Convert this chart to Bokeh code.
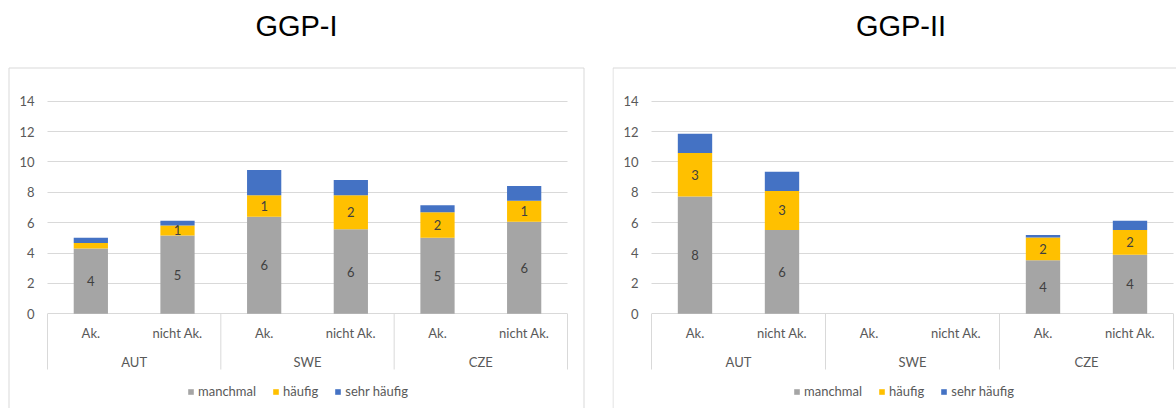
from bokeh.plotting import figure
from bokeh.models import (ColumnDataSource, FixedTicker, Legend, LegendItem,
                          Label, Range1d, Grid)
from bokeh.layouts import row
from bokeh.core.properties import value
from bokeh.embed import file_html
from bokeh.resources import INLINE
import math

# ---------------- data ----------------
groups = ["AUT", "SWE", "CZE"]
subgroups = ["Ak.", "nicht Ak."]
series = ["manchmal", "häufig", "sehr häufig"]
colors = ["#A5A5A5", "#FFC000", "#4472C4"]
y_ticks = [0, 2, 4, 6, 8, 10, 12, 14]

ggp1_title = "GGP-I"
ggp1_manchmal = [4.30, 5.16, 6.39, 5.56, 5.01, 6.06]
ggp1_haeufig = [0.36, 0.66, 1.41, 2.24, 1.67, 1.39]
ggp1_sehr_haeufig = [0.35, 0.31, 1.67, 1.01, 0.46, 0.97]

ggp2_title = "GGP-II"
ggp2_manchmal = [7.72, 5.52, 0, 0, 3.52, 3.89]
ggp2_haeufig = [2.87, 2.57, 0, 0, 1.51, 1.63]
ggp2_sehr_haeufig = [1.27, 1.27, 0, 0, 0.16, 0.61]

# ---------------- style / layout ----------------
FONT = "Lato"
GRID = "#D9D9D9"
TXT = "#595959"
H = 408
Y0_PX = 313.3        # pixel row of value 0
PPU = 15.186         # pixels per value unit


def rnd(v):
    return int(math.floor(v + 0.5))


def make_panel(title, manchmal, haeufig, sehr, canvas_left, width,
               plot_left, plot_right, box_left, box_right, title_cx, legend_x):
    factors = [(g, s) for g in groups for s in subgroups]
    n = len(factors)
    U = (plot_right - plot_left) / n

    def fx(px):
        return (px - plot_left) / U

    def fy(py):
        return (Y0_PX - py) / PPU

    p = figure(x_range=Range1d(fx(canvas_left), fx(canvas_left + width)),
               y_range=Range1d(fy(H), fy(0)),
               width=width, height=H, output_backend="svg",
               toolbar_location=None, x_axis_location=None,
               min_border_left=0, min_border_right=0,
               min_border_top=0, min_border_bottom=0)
    p.outline_line_color = None
    p.background_fill_color = "white"
    p.border_fill_color = "white"

    # panel border
    p.quad(left=[fx(box_left)], right=[fx(box_right)], top=[fy(67.5)],
           bottom=[fy(H + 50)], fill_color=None, line_color=GRID, line_width=1)

    # value axis (inside the panel, at x = 0)
    ticker = FixedTicker(ticks=y_ticks)
    yax = p.yaxis[0]
    yax.fixed_location = 0
    yax.ticker = ticker
    yax.bounds = (0, 14)
    yax.axis_line_color = None
    yax.major_tick_line_color = None
    yax.minor_tick_line_color = None
    yax.major_tick_out = 0
    yax.major_tick_in = 0
    yax.major_label_standoff = 13
    yax.major_label_text_font = FONT
    yax.major_label_text_font_size = "13px"
    yax.major_label_text_color = TXT

    p.xgrid.visible = False
    if "cross_bounds" in Grid.properties():
        p.ygrid.ticker = ticker
        p.ygrid.bounds = (0, 14)
        p.ygrid.cross_bounds = (0, n)
        p.ygrid.grid_line_color = GRID
        p.ygrid.grid_line_width = 1
    else:
        p.ygrid.visible = False
        p.segment(x0=[0] * len(y_ticks), x1=[n] * len(y_ticks), y0=y_ticks,
                  y1=y_ticks, line_color=GRID, line_width=1)

    # category table separators
    sep_x = [len(subgroups) * i for i in range(len(groups) + 1)]
    p.segment(x0=sep_x, y0=[0] * len(sep_x), x1=sep_x, y1=[fy(369)] * len(sep_x),
              line_color=GRID, line_width=1)

    # bars
    xs = [i + 0.5 for i in range(n)]
    src = ColumnDataSource(dict(x=xs, m=manchmal, h=haeufig, s=sehr))
    rs = p.vbar_stack(["m", "h", "s"], x="x", width=0.395, color=colors,
                      line_color=None, source=src)

    # data labels (rounded) for manchmal and häufig
    lx, ly, lt = [], [], []
    for i in range(n):
        bottom = 0.0
        for vals in (manchmal, haeufig):
            v = vals[i]
            if rnd(v) >= 1:
                lx.append(xs[i])
                ly.append(bottom + v / 2)
                lt.append(str(rnd(v)))
            bottom += v
    p.text(x=lx, y=ly, text=lt, text_align="center",
           text_baseline="middle", text_font=value(FONT),
           text_font_size="13px", text_color="#404040")

    # category labels
    p.text(x=xs, y=[0] * n, text=[f[1] for f in factors], y_offset=19,
           text_align="center", text_baseline="middle", text_font=value(FONT),
           text_font_size="13px", text_color=TXT)
    gx = [len(subgroups) * (i + 0.5) for i in range(len(groups))]
    p.text(x=gx, y=[0] * len(groups), text=groups, y_offset=48,
           text_align="center", text_baseline="middle", text_font=value(FONT),
           text_font_size="13px", text_color=TXT)

    legend = Legend(items=[LegendItem(label=s, renderers=[r]) for s, r in zip(series, rs)],
                    location=(legend_x, 9), orientation="horizontal",
                    glyph_width=7, glyph_height=7, label_standoff=4, spacing=16,
                    padding=0, margin=0, label_height=14,
                    border_line_color=None, background_fill_alpha=0,
                    label_text_font=FONT, label_text_font_size="13px",
                    label_text_color=TXT)
    p.add_layout(legend)

    p.add_layout(Label(x=fx(title_cx), y=fy(25.5),
                       text=title, text_align="center", text_baseline="middle",
                       text_font="Liberation Sans", text_font_size="29px",
                       text_color="black"))
    return p


p1 = make_panel(ggp1_title, ggp1_manchmal, ggp1_haeufig, ggp1_sehr_haeufig,
                canvas_left=0, width=612, plot_left=47, plot_right=567,
                box_left=8.5, box_right=583.5, title_cx=296, legend_x=187)
p2 = make_panel(ggp2_title, ggp2_manchmal, ggp2_haeufig, ggp2_sehr_haeufig,
                canvas_left=612, width=564, plot_left=651, plot_right=1173,
                box_left=612.5, box_right=1400, title_cx=900.5, legend_x=181)

layout = row(p1, p2)
open("out.html", "w").write(file_html(layout, INLINE))
